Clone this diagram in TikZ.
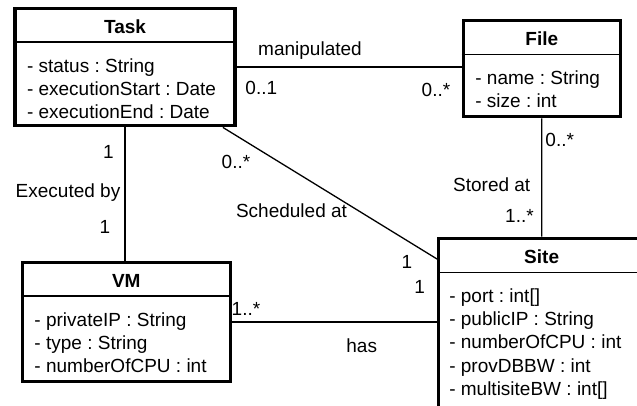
\documentclass[tikz,border=0pt]{standalone}
\usepackage{fontspec}
\setmainfont{Liberation Sans}
\frenchspacing
\usetikzlibrary{positioning}

\begin{document}
\begin{tikzpicture}[x=1bp,y=-1bp,
    every node/.style={font=\fontsize{19bp}{23.4bp}\selectfont},
    umlclass/.style={rectangle,draw,line width=3.2bp,inner sep=0pt},
    classname/.style={font=\fontsize{19bp}{23.4bp}\selectfont\bfseries,anchor=base,inner sep=0pt},
    attrs/.style={align=left,anchor=north west,inner sep=0pt},
    assoc/.style={line width=1.3bp},
    lbl/.style={anchor=base,inner sep=0pt}
]
\useasboundingbox (0,0) rectangle (637,405);
\clip (0,0) rectangle (637,405);

% classes
\node[umlclass,minimum width=221,minimum height=118] (task) at (125,67) {};
\node[umlclass,minimum width=157.5,minimum height=96.5] (file) at (541.75,68.75) {};
\node[umlclass,minimum width=208.5,minimum height=120] (vm) at (126.25,322) {};
\node[umlclass,minimum width=206.7,minimum height=170] (site) at (541.65,323) {};

\foreach \c in {task,file,vm,site}
  \draw[assoc] ([yshift=-35.5bp]\c.north west) -- ([yshift=-35.5bp]\c.north east);

\node[classname] (tasktitle) at ([yshift=-26.5bp]task.north) {Task};
\node[classname] (filetitle) at ([yshift=-26.5bp]file.north) {File};
\node[classname] (vmtitle) at ([yshift=-26.5bp]vm.north) {VM};
\node[classname] (sitetitle) at ([yshift=-26.5bp]site.north) {Site};

\node[attrs] (taskattrs) at ([xshift=13.5bp,yshift=-51.5bp]task.north west)
  {- status : String\\- executionStart : Date\\- executionEnd : Date};
\node[attrs] (fileattrs) at ([xshift=13.5bp,yshift=-51.5bp]file.north west)
  {- name : String\\- size : int};
\node[attrs] (vmattrs) at ([xshift=13.5bp,yshift=-51.5bp]vm.north west)
  {- privateIP : String\\- type : String\\- numberOfCPU : int};
\node[attrs] (siteattrs) at ([xshift=12bp,yshift=-51.5bp]site.north west)
  {- port : int[]\\- publicIP : String\\- numberOfCPU : int\\- provDBBW : int\\- multisiteBW : int[]};

% associations
\draw[assoc] (task.east) -- (task.east -| file.west);
\draw[assoc] (task.south) -- (task.south |- vm.north);
\draw[assoc] (file.south) -- (site.north);
\draw[assoc] (vm.east) -- (vm.east -| site.west);
\draw[assoc] (task) -- (site);

% labels
\node[lbl] (manip) at (310,55) {manipulated};
\node[lbl] (manipa) at (261.3,94.3) {0..1};
\node[lbl] (manipb) at (436,96) {0..*};
\node[lbl] (execa) at (108.5,158.3) {1};
\node[lbl] (exec) at (68,197) {Executed by};
\node[lbl] (execb) at (105,233.3) {1};
\node[lbl] (scheda) at (236,168.5) {0..*};
\node[lbl] (sched) at (291.5,217.3) {Scheduled at};
\node[lbl] (schedb) at (407,268.3) {1};
\node[lbl] (hasb) at (419.7,293.3) {1};
\node[lbl] (hasa) at (246,315) {1..*};
\node[lbl] (has) at (361.7,352.7) {has};
\node[lbl] (storeda) at (559.7,146.7) {0..*};
\node[lbl] (stored) at (491.7,191.7) {Stored at};
\node[lbl] (storedb) at (519.5,222.7) {1..*};
\end{tikzpicture}
\end{document}
